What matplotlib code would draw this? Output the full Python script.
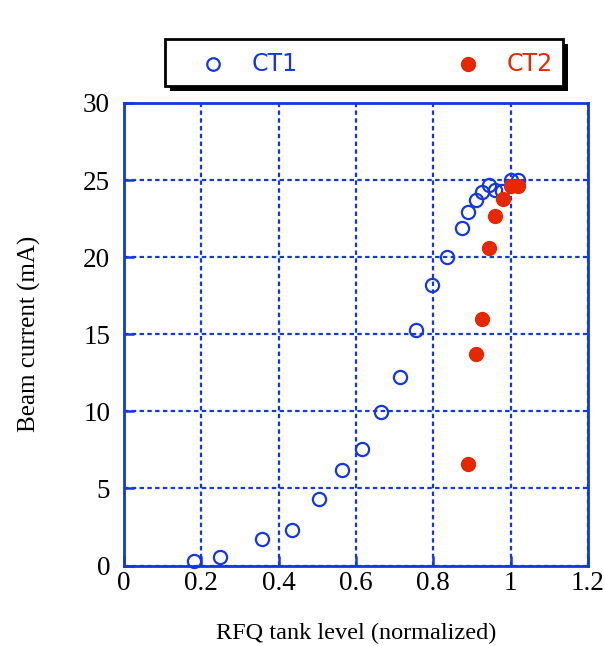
import matplotlib.pyplot as plt
from matplotlib.patches import Rectangle
from matplotlib.lines import Line2D

# CT1 (open circles)
ct1_x = [0.181, 0.248, 0.356, 0.434, 0.504, 0.565, 0.616, 0.665, 0.714, 0.755,
         0.796, 0.835, 0.874, 0.890, 0.910, 0.925, 0.945, 0.960, 0.978, 1.000, 1.020]
ct1_y = [0.3, 0.55, 1.7, 2.3, 4.3, 6.2, 7.55, 9.95, 12.2, 15.3,
         18.2, 20.0, 21.9, 22.95, 23.7, 24.2, 24.7, 24.35, 24.3, 25.0, 25.0]

# CT2 (filled circles)
ct2_x = [0.890, 0.910, 0.925, 0.945, 0.960, 0.979, 1.000, 1.020]
ct2_y = [6.6, 13.7, 16.0, 20.6, 22.7, 23.75, 24.6, 24.6]

xticks = [0, 0.2, 0.4, 0.6, 0.8, 1, 1.2]
xticklabels = ['0', '0.2', '0.4', '0.6', '0.8', '1', '1.2']
yticks = [0, 5, 10, 15, 20, 25, 30]

blue = '#1437e0'
red = '#e62800'

fig = plt.figure(figsize=(6.05, 6.46), dpi=100)
ax = fig.add_axes([124 / 605, 1 - 565.5 / 646, 464 / 605, 462.5 / 646])

ax.plot(ct1_x, ct1_y, 'o', ms=9.5, mfc='none', mec=blue, mew=1.6, zorder=3, clip_on=False)
ax.plot(ct2_x, ct2_y, 'o', ms=10, mfc=red, mec=red, zorder=4, clip_on=False)

ax.set_xlim(0, 1.2)
ax.set_ylim(0, 30)
ax.set_xticks(xticks)
ax.set_xticklabels(xticklabels)
ax.set_yticks(yticks)
ax.grid(True, color=blue, linestyle=(0, (2, 1.5)), linewidth=1.6)
ax.set_axisbelow(True)
for s in ax.spines.values():
    s.set_color(blue)
    s.set_linewidth(2)
ax.tick_params(direction='in', length=7, width=1.8, color=blue,
               labelsize=19.5, top=False, right=False)
ax.tick_params(axis='y', pad=10)
ax.tick_params(axis='x', pad=4)
for lab in ax.get_xticklabels() + ax.get_yticklabels():
    lab.set_fontfamily('Liberation Serif')

ax.set_xlabel('RFQ tank level (normalized)', fontsize=17.5, family='Liberation Serif', labelpad=19)
ax.set_ylabel('Beam current (mA)', fontsize=18, family='Liberation Serif', labelpad=30)

# legend box with shadow
W, H = 605, 646
def fx(px):
    return px / W
def fy(py):
    return 1 - py / H

fig.patches.append(Rectangle((fx(170), fy(91)), fx(568) - fx(170), fy(44) - fy(91),
                             transform=fig.transFigure, facecolor='black', edgecolor='none'))
fig.patches.append(Rectangle((fx(165), fy(86)), fx(563) - fx(165), fy(39) - fy(86),
                             transform=fig.transFigure, facecolor='white', edgecolor='black', linewidth=2))
fig.lines.append(Line2D([fx(213)], [fy(64)], transform=fig.transFigure, marker='o', ms=9,
                        mfc='none', mec=blue, mew=1.6))
fig.lines.append(Line2D([fx(468)], [fy(64)], transform=fig.transFigure, marker='o', ms=10,
                        mfc=red, mec=red))
fig.text(fx(252), fy(64), 'CT1', color=blue, fontsize=17, va='center', ha='left', family='DejaVu Sans')
fig.text(fx(507), fy(64), 'CT2', color=red, fontsize=17, va='center', ha='left', family='DejaVu Sans')

fig.savefig('out.png', dpi=100)
